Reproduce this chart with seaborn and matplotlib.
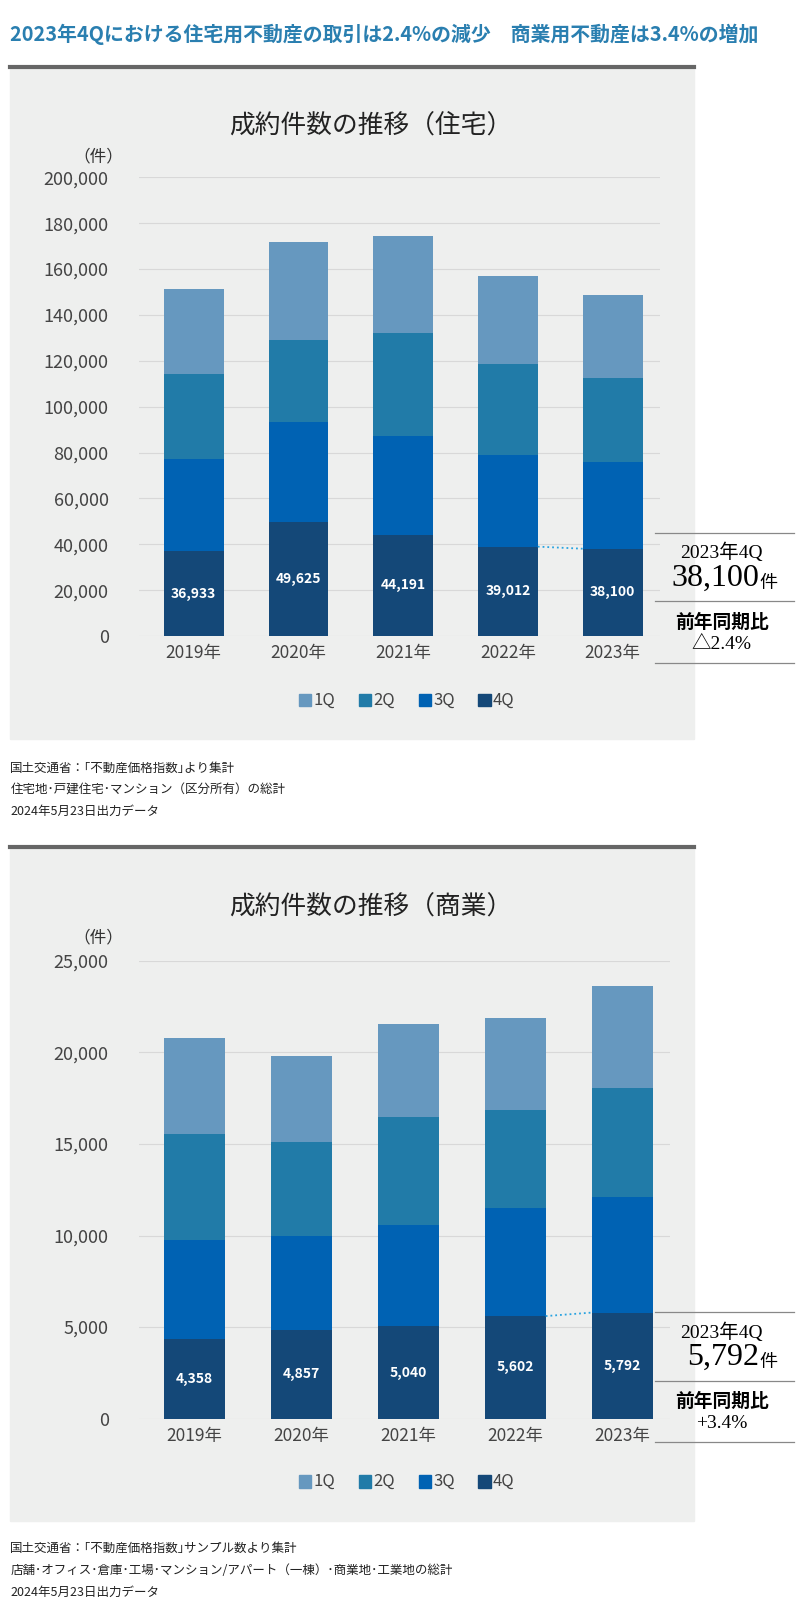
import matplotlib
matplotlib.use("Agg")
import matplotlib.pyplot as plt
import seaborn as sns
import pandas as pd
from matplotlib.patches import Rectangle
from matplotlib.lines import Line2D

JP = "Noto Sans CJK JP"
SERIF = ["Liberation Serif", "Noto Sans CJK JP"]
plt.rcParams["font.family"] = JP

years = ["2019年", "2020年", "2021年", "2022年", "2023年"]
quarters = ["1Q", "2Q", "3Q", "4Q"]
colors = {"1Q": "#6698bf", "2Q": "#217ba8", "3Q": "#0062b3", "4Q": "#144878"}

res_q4 = [36933, 49625, 44191, 39012, 38100]
res_q3 = [40300, 43600, 43000, 40000, 37600]
res_q2 = [37200, 36000, 45000, 39500, 36800]
res_q1 = [37000, 42400, 42300, 38500, 36000]

com_q4 = [4358, 4857, 5040, 5602, 5792]
com_q3 = [5420, 5100, 5520, 5890, 6300]
com_q2 = [5780, 5170, 5920, 5370, 5970]
com_q1 = [5230, 4690, 5050, 5030, 5540]

res_ticks = list(range(0, 200001, 20000))
com_ticks = list(range(0, 25001, 5000))

S = 1.031
fig = plt.figure(figsize=(8, 16.16), dpi=100)
H = 1616

def fx(x):
    return x * S / 800

def fy(y):
    return 1 - y * S / H

fig.text(fx(10), fy(33), "2023年4Qにおける住宅用不動産の取引は2.4%の減少　商業用不動産は3.4%の増加",
         color="#2a7fb0", fontsize=14.3, fontweight="bold", va="center")

def panel(top, bot, title, title_y):
    fig.patches.append(Rectangle((fx(10), fy(bot)), fx(663), (bot-top)*S/H,
                                 transform=fig.transFigure, color="#eeefee", zorder=-10))
    fig.lines.append(Line2D([fx(10), fx(673)], [fy(top), fy(top)], transform=fig.transFigure,
                            color="#666666", lw=3))
    fig.text(fx(360), fy(title_y), title, fontsize=18.5, ha="center", va="center", color="#222222")

def chart(top, bot, right, data, ticks, ymax, labely, legend_y, ann):
    ax = fig.add_axes([fx(135), fy(bot), fx(right) - fx(135), (bot-top)*S/H])
    ax.set_facecolor("none")
    df = pd.DataFrame({"year": years, "1Q": data[3], "2Q": data[2], "3Q": data[1], "4Q": data[0]})
    bottom = [0]*5
    for q in ["4Q", "3Q", "2Q", "1Q"]:
        sns.barplot(data=df, x="year", y=q, bottom=bottom, color=colors[q], width=0.57,
                    ax=ax, saturation=1, zorder=3)
        bottom = [b + v for b, v in zip(bottom, df[q])]
    for i, v in enumerate(df["4Q"]):
        ax.text(i, v/2, f"{v:,}", ha="center", va="center", color="white", fontsize=10,
                fontweight="bold", zorder=5)
    ax.plot([3+0.285, 4-0.285], [df["4Q"][3], df["4Q"][4]], ls=":", color="#29a3e0", lw=1.3, zorder=4)
    ax.set_ylim(0, ymax)
    ax.set_xlim(-0.52, 4.45)
    ax.set_yticks(ticks)
    ax.set_yticklabels([f"{t:,}" for t in ticks], fontsize=13, color="#444444")
    ax.tick_params(axis="x", labelsize=12.5, colors="#444444", length=0, pad=6)
    ax.tick_params(axis="y", length=0, pad=22)
    ax.grid(axis="y", color="#d8d8d8", lw=0.8, zorder=0)
    ax.set_xlabel(""); ax.set_ylabel("")
    for s in ax.spines.values():
        s.set_visible(False)
    fig.text(fx(95), fy(labely), "（件）", fontsize=12, ha="center", va="center", color="#333333")
    lx = 290
    for q in quarters:
        fig.patches.append(Rectangle((fx(lx), fy(legend_y+6)), fx(12), 12*S/H,
                                     transform=fig.transFigure, color=colors[q]))
        fig.text(fx(lx+14), fy(legend_y), q, fontsize=12, va="center", color="#444444")
        lx += 58
    y0 = ann["y0"]
    for yy in (y0, y0+66, y0+126):
        fig.lines.append(Line2D([fx(635), fx(770)], [fy(yy), fy(yy)], transform=fig.transFigure,
                                color="#888888", lw=0.9))
    fig.text(fx(700), fy(y0+19), "2023年4Q", family=SERIF, fontsize=14, ha="center", va="center")
    fig.text(fx(736), fy(y0+44), ann["val"], family=SERIF, fontsize=23, ha="right", va="center")
    fig.text(fx(737), fy(y0+49), "件", family=SERIF, fontsize=13, ha="left", va="center")
    fig.text(fx(700), fy(y0+87), "前年同期比", family=SERIF, fontsize=13.5, fontweight="bold",
             ha="center", va="center")
    fig.text(fx(700), fy(y0+108), ann["pct"], family=SERIF, fontsize=14, ha="center", va="center")
    return ax

panel(65, 717, "成約件数の推移（住宅）", 122)
chart(172, 617, 640, [res_q4, res_q3, res_q2, res_q1], res_ticks, 200000,
      152, 679, {"y0": 517, "val": "38,100", "pct": "△2.4%"})
for i, t in enumerate(["国土交通省：｢不動産価格指数｣より集計", "住宅地･戸建住宅･マンション（区分所有）の総計", "2024年5月23日出力データ"]):
    fig.text(fx(10), fy(745 + i*21), t, fontsize=9, va="center", color="#222222")

panel(822, 1475, "成約件数の推移（商業）", 880)
chart(932, 1376, 650, [com_q4, com_q3, com_q2, com_q1], com_ticks, 25000,
      910, 1437, {"y0": 1273, "val": "5,792", "pct": "+3.4%"})
for i, t in enumerate(["国土交通省：｢不動産価格指数｣サンプル数より集計", "店舗･オフィス･倉庫･工場･マンション/アパート（一棟）･商業地･工業地の総計", "2024年5月23日出力データ"]):
    fig.text(fx(10), fy(1502 + i*21), t, fontsize=9, va="center", color="#222222")

fig.savefig("out.png", dpi=100, facecolor="white")
